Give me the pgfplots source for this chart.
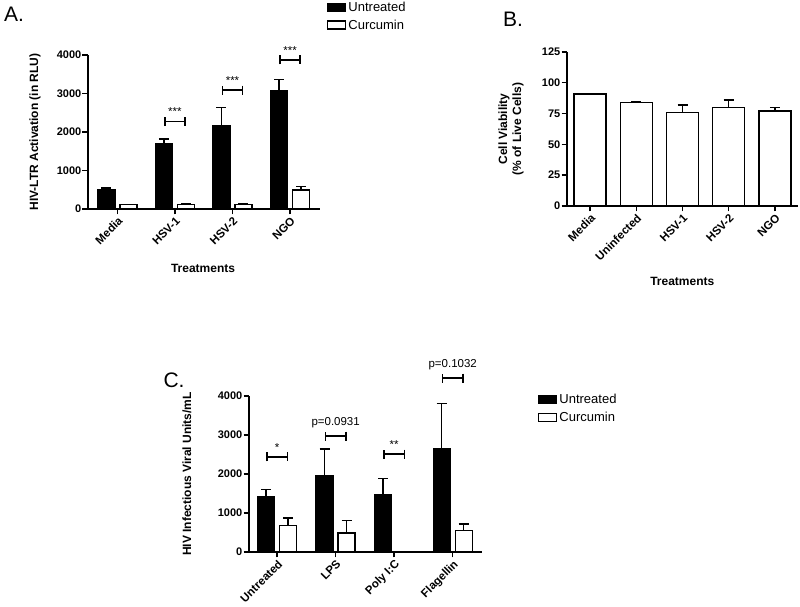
\documentclass[border=0pt]{standalone}
\usepackage{fontspec}
\setmainfont{Liberation Sans}
\usepackage{pgfplots}
\pgfplotsset{compat=1.18}
\usepackage{pgfplotstable}
\usetikzlibrary{arrows.meta}

% Panel A
\pgfplotstableread{
x y e
0 500 50
1 1700 120
2 2170 460
3 3070 300
}\Aunt
\pgfplotstableread{
x y e
0 110 8
1 120 10
2 110 15
3 490 90
}\Acur
% Panel B
\pgfplotstableread{
x y e
0 91 0.5
1 84 1
2 76 6
3 80 6
4 77 3
}\Bvia
% Panel C
\pgfplotstableread{
x y e
0 1430 180
1 1950 690
2 1480 410
3 2640 1170
}\Cunt
\pgfplotstableread{
x y e
0 680 190
1 490 310
3 550 170
}\Ccur

\pgfplotsset{
 gp/.style={
  scale only axis,
  axis x line*=bottom, axis y line*=left,
  axis line style={line width=1.6pt, -},
  tick style={line width=1.4pt, black},
  tick align=outside,
  major tick length=5.5pt,
  yticklabel style={font=\fontsize{11}{12}\selectfont\bfseries, inner sep=1pt},
  xticklabel style={font=\fontsize{11.5}{12}\selectfont\bfseries, rotate=45, anchor=north east, inner sep=1pt},
  /pgf/number format/assume math mode=true,
  /pgf/number format/1000 sep={},
  label style={font=\fontsize{12}{14}\selectfont\bfseries},
  clip=false,
  ymin=0,
  xtick={0,1,2,3,4},
 },
 gpbar/.style={draw=black, line width=1.4pt},
 errs/.style={
   /pgfplots/error bars/y dir=plus,
   /pgfplots/error bars/y explicit,
   /pgfplots/error bars/error bar style={line width=1.4pt, black},
   /pgfplots/error bars/error mark options={rotate=90, mark size=5pt, line width=1.4pt, black}},
 sqleg/.style={legend image code/.code={\draw[##1, line width=1.3pt] (0pt,-4pt) rectangle (18pt,4pt);}},
}
\tikzset{
 sig/.style={line width=1.6pt, {Bar[width=9pt]}-{Bar[width=9pt]}},
 sigtxt/.style={font=\fontsize{11.5}{12}\selectfont, inner sep=1pt},
}

\begin{document}
\begin{tikzpicture}
\useasboundingbox (0pt,0pt) rectangle (800pt,607pt);

% ---------------- Panel A ----------------
\begin{axis}[gp,
  at={(88pt,398pt)}, anchor=south west,
  width=232pt, height=154pt,
  xmin=-0.51, xmax=3.52, ymax=4000,
  ytick={0,1000,...,4000},
  xticklabels={Media,HSV-1,HSV-2,NGO},
  ybar=5pt, bar width=17pt,
  xlabel={Treatments},
  xlabel style={at={(axis description cs:0.496,-0.383)}, anchor=center},
  ylabel={HIV-LTR Activation (in RLU)},
  ylabel style={at={(axis description cs:-0.228,0.5)}, anchor=center},
  legend style={at={(1.03,1.36)}, anchor=north west, draw=none, fill=none,
    font=\fontsize{13}{15}\selectfont, row sep=3pt, inner sep=0pt},
  legend cell align=left,
]
\addplot[fill=black, gpbar, errs, sqleg] table[x=x, y=y, y error=e]{\Aunt};
\addplot[fill=white, gpbar, errs, sqleg] table[x=x, y=y, y error=e]{\Acur};
\legend{Untreated, Curcumin}
\draw[sig] (axis cs:0.81,2270) -- (axis cs:1.19,2270) node[midway, above=4pt, sigtxt] {***};
\draw[sig] (axis cs:1.81,3085) -- (axis cs:2.19,3085) node[midway, above=4pt, sigtxt] {***};
\draw[sig] (axis cs:2.81,3870) -- (axis cs:3.19,3870) node[midway, above=4pt, sigtxt] {***};
\end{axis}

% ---------------- Panel B ----------------
\begin{axis}[gp,
  at={(567pt,401pt)}, anchor=south west,
  width=231pt, height=154pt,
  xmin=-0.5, xmax=4.5, ymax=125,
  ytick={0,25,...,125},
  xticklabels={Media,Uninfected,HSV-1,HSV-2,NGO},
  ybar, bar width=32pt,
  xlabel={Treatments},
  xlabel style={at={(axis description cs:0.499,-0.487)}, anchor=center},
  ylabel={Cell Viability\\(\% of Live Cells)},
  ylabel style={at={(axis description cs:-0.242,0.5)}, anchor=center, align=center},
]
\addplot[fill=white, gpbar, errs] table[x=x, y=y, y error=e]{\Bvia};
\end{axis}

% ---------------- Panel C ----------------
\begin{axis}[gp,
  at={(249pt,55pt)}, anchor=south west,
  width=233pt, height=156pt,
  xmin=-0.48, xmax=3.5, ymax=4000,
  ytick={0,1000,...,4000},
  xticklabels={Untreated,LPS,Poly I:C,Flagellin},
  ybar=5pt, bar width=17pt,
  ylabel={HIV Infectious Viral Units/mL},
  ylabel style={at={(axis description cs:-0.266,0.5)}, anchor=center},
  legend style={at={(1.24,1.025)}, anchor=north west, draw=none, fill=none,
    font=\fontsize{13}{15}\selectfont, row sep=3pt, inner sep=0pt},
  legend cell align=left,
]
\addplot[fill=black, gpbar, errs, sqleg] table[x=x, y=y, y error=e]{\Cunt};
\addplot[fill=white, gpbar, errs, sqleg] table[x=x, y=y, y error=e]{\Ccur};
\legend{Untreated, Curcumin}
\draw[sig] (axis cs:-0.19,2440) -- (axis cs:0.19,2440) node[midway, above=4pt, sigtxt] {*};
\draw[sig] (axis cs:0.81,2970) -- (axis cs:1.19,2970) node[midway, above=6pt, sigtxt] {p=0.0931};
\draw[sig] (axis cs:1.81,2510) -- (axis cs:2.19,2510) node[midway, above=4pt, sigtxt] {**};
\draw[sig] (axis cs:2.81,4460) -- (axis cs:3.19,4460) node[midway, above=6pt, sigtxt] {p=0.1032};
\end{axis}

% panel letters
\node[font=\fontsize{21}{22}\selectfont] at (14pt,593pt) {A.};
\node[font=\fontsize{21}{22}\selectfont] at (513pt,588pt) {B.};
\node[font=\fontsize{21}{22}\selectfont] at (174pt,227pt) {C.};
\end{tikzpicture}
\end{document}
